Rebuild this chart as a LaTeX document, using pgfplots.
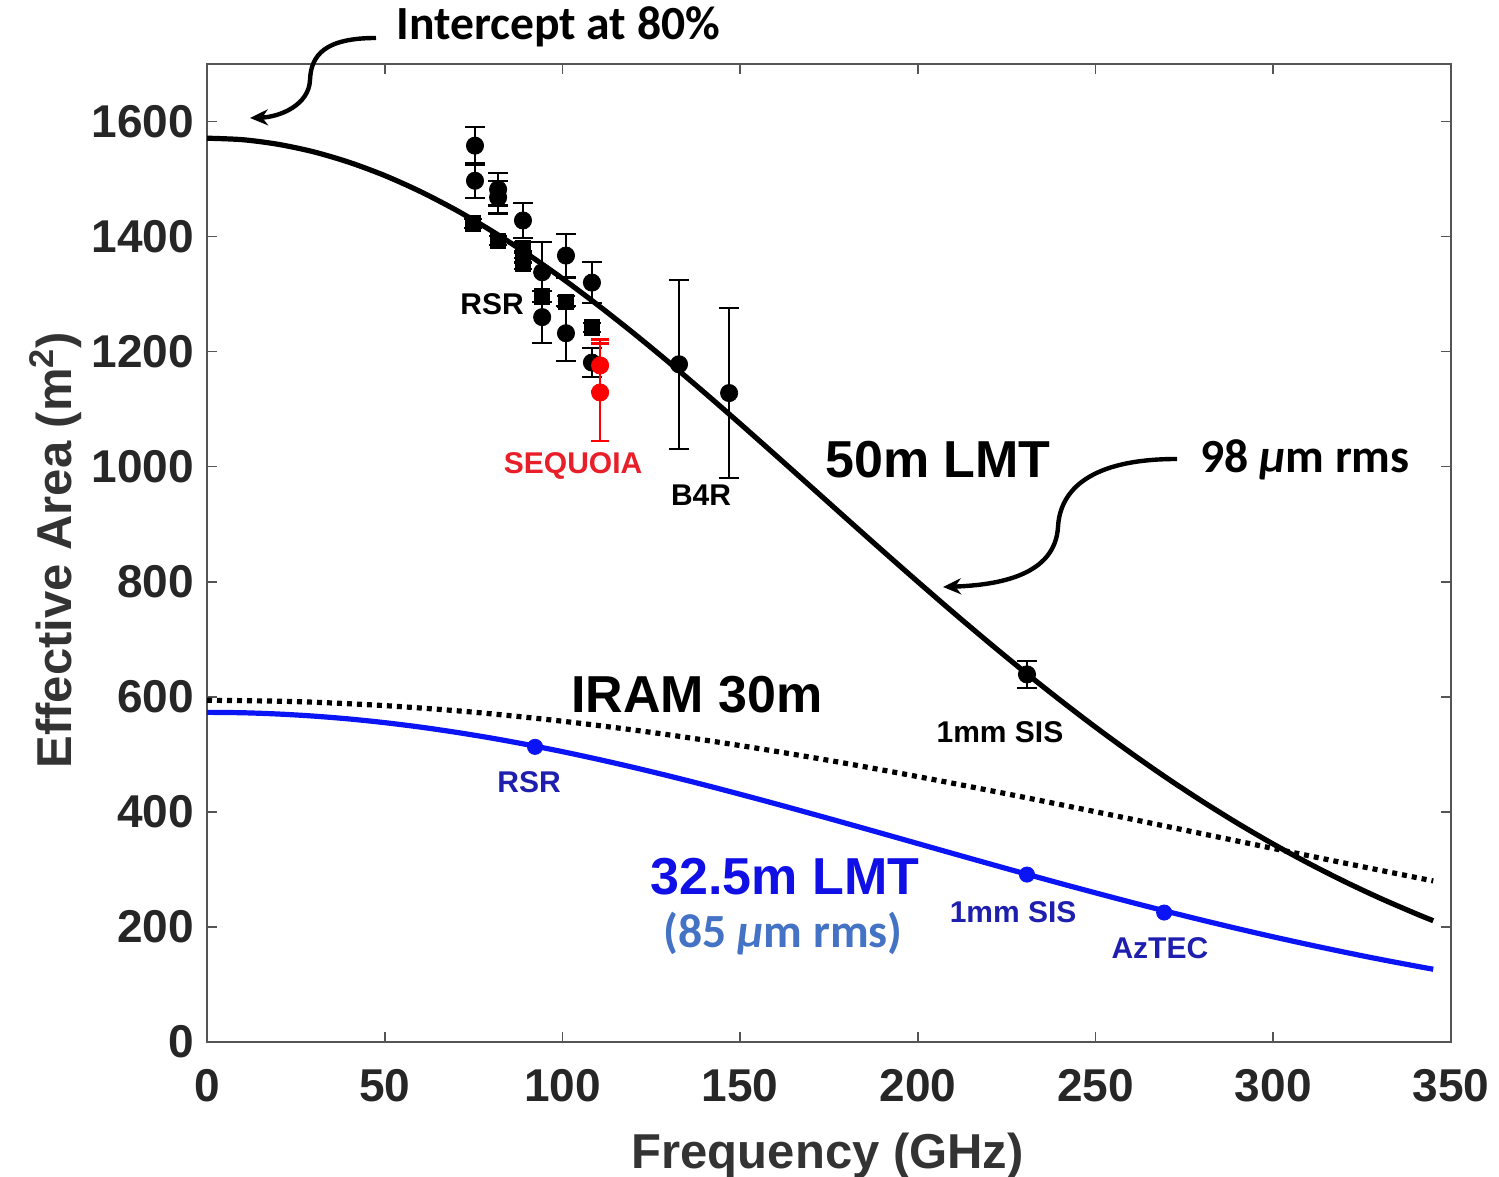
\documentclass[border=0pt]{standalone}
\usepackage{fontspec}
\setmainfont{Liberation Sans}
\newfontfamily\calibri{Carlito}
\usepackage{pgfplots}
\pgfplotsset{compat=1.18}
\usepackage{pgfplotstable}
\usetikzlibrary{arrows.meta}
\definecolor{axgray}{RGB}{85,85,85}
\definecolor{lblue}{RGB}{30,30,175}
\definecolor{bblue}{RGB}{15,15,230}
\definecolor{lineblue}{RGB}{10,20,245}
\definecolor{steel}{RGB}{68,114,196}
\definecolor{seqred}{RGB}{232,30,40}

\pgfplotstableread{
f A
0 1571
10 1568.4
20 1560.4
30 1547.3
40 1529.1
50 1506.1
60 1478.4
70 1446.3
80 1410.2
90 1370.3
100 1327.1
110 1280.8
120 1232.1
130 1181.2
140 1128.6
150 1074.7
160 1019.9
170 964.7
180 909.3
190 854.3
200 799.9
210 746.4
220 694.2
230 643.4
240 594.4
250 547.2
260 502.1
270 459.1
280 418.4
290 380.0
300 344.0
310 310.4
320 279.1
330 250.1
340 223.4
345 210.8
}\lmtfifty

\pgfplotstableread{
f A
0 573
10 572.3
20 570.1
30 566.5
40 561.5
50 555.1
60 547.4
70 538.4
80 528.3
90 517.0
100 504.7
110 491.4
120 477.3
130 462.4
140 446.8
150 430.6
160 414.0
170 397.0
180 379.8
190 362.4
200 344.9
210 327.4
220 310.0
230 292.8
240 275.8
250 259.2
260 242.9
270 227.1
280 211.8
290 197.0
300 182.8
310 169.2
320 156.2
330 143.8
340 132.1
345 126.5
}\lmtsmall

\pgfplotstableread{
f A
0 594
25 591.7
50 584.7
75 573.3
100 557.6
125 538.2
150 515.3
175 489.5
200 461.3
225 431.4
250 400.2
275 368.4
300 336.4
325 304.8
345 280.0
}\iram

\pgfplotstableread{
f A e
75.4 1558 33
75.4 1497 30
81.9 1482 28
81.9 1468 28
88.9 1428 30
94.3 1338 52
94.3 1260 45
101.0 1367 38
101.0 1232 48
108.3 1320 36
108.3 1181 25
132.8 1178 147
146.9 1128 148
230.7 639 23
}\blackcirc

\pgfplotstableread{
f A e
74.9 1423 8
81.9 1393 8
88.9 1381 10
88.9 1365 10
88.9 1353 10
94.3 1296 10
101.0 1287 10
108.3 1242 8
}\blacksq

\pgfplotstableread{
f A e
110.6 1176 45
110.6 1129 85
}\redpts

\pgfplotstableread{
f A
92.3 513
230.7 291
269.3 225
}\bluepts

\begin{document}
\begin{tikzpicture}
\useasboundingbox (0,0) rectangle (749.5pt,588.5pt);
\begin{axis}[
  at={(103.5pt,67.5pt)}, anchor=south west,
  scale only axis, width=622pt, height=489pt,
  xmin=0, xmax=350, ymin=0, ymax=1700,
  xtick={0,50,...,350}, ytick={0,200,...,1600},
  tick pos=both, tick align=inside,
  major tick length=5pt,
  axis line style={axgray, line width=0.8pt},
  every tick/.style={axgray, line width=0.8pt},
  /pgf/number format/assume math mode=true,
  /pgf/number format/1000 sep={},
  tick label style={font=\fontsize{23}{27}\selectfont\bfseries, text=black!85},
  yticklabel style={xshift=-3pt},
  xticklabel style={yshift=-10pt},
  xlabel={Frequency (GHz)},
  ylabel={Effective Area (m\textsuperscript{2})},
  label style={font=\fontsize{24.5}{28}\selectfont\bfseries, text=black!80},
  xlabel style={at={(axis description cs:0.499,-0.116)}, anchor=center},
  ylabel style={at={(axis description cs:-0.122,0.503)}, anchor=center},
  clip=false,
]
\addplot[black, line width=2.6pt, smooth] table[x=f,y=A] {\lmtfifty};
\addplot[lineblue, line width=2.6pt, smooth] table[x=f,y=A] {\lmtsmall};
\addplot[black, line width=2.6pt, smooth, dash pattern=on 2.5pt off 2.5pt] table[x=f,y=A] {\iram};

\addplot[only marks, black, mark=*, mark size=4.3pt,
  error bars/.cd, y dir=both, y explicit,
  error bar style={line width=1.1pt},
  error mark options={rotate=90, mark size=5pt, line width=1.1pt}]
  table[x=f,y=A,y error=e] {\blackcirc};
\addplot[only marks, black, mark=square*, mark size=3.8pt,
  error bars/.cd, y dir=both, y explicit,
  error bar style={line width=1.1pt},
  error mark options={rotate=90, mark size=4.5pt, line width=1.1pt}]
  table[x=f,y=A,y error=e] {\blacksq};
\addplot[only marks, red, mark=*, mark size=4.3pt,
  error bars/.cd, y dir=both, y explicit,
  error bar style={line width=1.1pt},
  error mark options={rotate=90, mark size=4.5pt, line width=1.1pt}]
  table[x=f,y=A,y error=e] {\redpts};
\addplot[only marks, lineblue, mark=*, mark size=3.8pt] table[x=f,y=A] {\bluepts};

\begin{scope}[font=\fontsize{15}{18}\selectfont\bfseries]
\node[black] at (axis cs:80.2,1283) {RSR};
\node[seqred] at (axis cs:103.0,1001) {SEQUOIA};
\node[black] at (axis cs:139.0,951) {B4R};
\node[black] at (axis cs:223.1,539) {1mm SIS};
\node[lblue] at (axis cs:90.6,452) {RSR};
\node[lblue] at (axis cs:226.8,226) {1mm SIS};
\node[lblue] at (axis cs:268.1,163) {AzTEC};
\end{scope}
\begin{scope}[font=\fontsize{26}{30}\selectfont\bfseries]
\node[black] at (axis cs:205.7,1012) {50m LMT};
\node[black] at (axis cs:137.9,603) {IRAM 30m};
\node[bblue] at (axis cs:162.6,287) {32.5m LMT};
\end{scope}
\begin{scope}[font=\fontsize{23.8}{28}\selectfont\calibri\bfseries]
\node[steel] at (axis cs:162.1,188) {(85 {\itshape μ}m rms)};
\node[black] at (axis cs:308.9,1012) {98 {\itshape μ}m rms};
\node[black] at (axis cs:98.8,1764) {Intercept at 80\%};
\end{scope}
\end{axis}
\begin{scope}[x=0.5pt,y=-0.5pt,yshift=588.5pt]
\draw[black, line width=2.2pt, -{Stealth[length=9pt,width=8pt]}]
  (376,38) .. controls (325,38) and (311,55) .. (310,80)
  .. controls (309,105) and (280,117) .. (250,118);
\draw[black, line width=2.2pt, -{Stealth[length=9pt,width=8pt]}]
  (1177,459) .. controls (1090,459) and (1060,490) .. (1058,527)
  .. controls (1055,575) and (1000,585) .. (943,587);
\end{scope}
\end{tikzpicture}
\end{document}
